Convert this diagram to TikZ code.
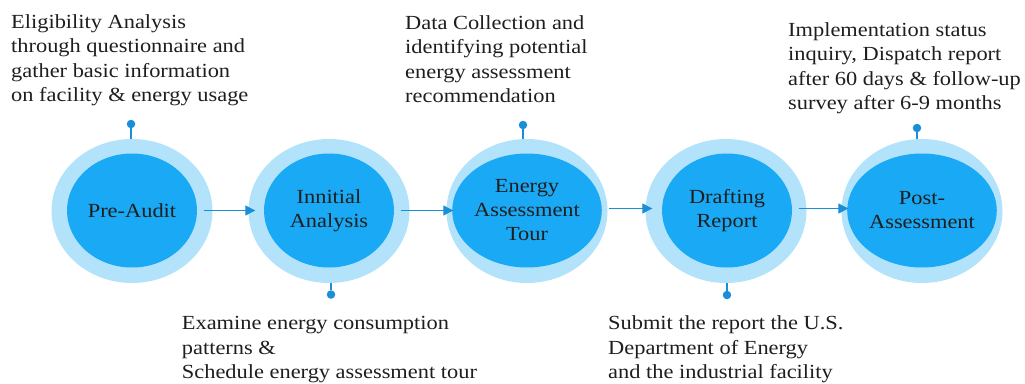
\documentclass[tikz,border=0pt]{standalone}
\usepackage{fontspec}
\setmainfont{Liberation Serif}[FakeStretch=1.12]
\usetikzlibrary{shapes.geometric,arrows.meta,calc}
\definecolor{ringblue}{HTML}{B3E3FB}
\definecolor{coreblue}{HTML}{1AA9F4}
\definecolor{linkblue}{HTML}{1A8ED6}
\definecolor{txt}{HTML}{1E1E1E}
\begin{document}
\begin{tikzpicture}[x=1pt,y=-1pt,
  ring/.style={ellipse, fill=ringblue, minimum width=161pt, minimum height=144pt, inner sep=0pt},
  core/.style={ellipse, fill=coreblue, minimum width=130pt, minimum height=114pt, inner sep=0pt, align=center, text=txt, font=\fontsize{20}{24}\selectfont},
  pin/.style={circle, fill=linkblue, minimum size=8.5pt, inner sep=0pt},
  stem/.style={draw=linkblue, line width=1.5pt},
  flow/.style={draw=linkblue, line width=1.3pt, -{Triangle[length=10pt,width=10pt]}},
  note/.style={anchor=base west, inner sep=0pt, text=txt, font=\fontsize{20}{24.5}\selectfont}
]
\useasboundingbox (0,0) rectangle (1025,383);

% stages
\node[ring] (o1) at (132,211) {};
\node[core] (c1) at (132,210.5) {Pre-Audit};
\node[ring] (o2) at (329,211) {};
\node[core] (c2) at (329,210.5) {Innitial\\Analysis};
\node[ring] (o3) at (527,211) {};
\node[core] (c3) at (527,210.5) {Energy\\Assessment\\Tour};
\node[ring] (o4) at (726,211) {};
\node[core] (c4) at (727,210.5) {Drafting\\Report};
\node[ring] (o5) at (922,211) {};
\node[core] (c5) at (922,210.5) {Post-\\Assessment};

% flow arrows
\draw[flow] ([xshift=6.5pt]c1.east) -- ([xshift=7pt]c1.east -| o2.west);
\draw[flow] ([xshift=6.5pt]c2.east) -- ([xshift=7pt]c2.east -| o3.west);
\draw[flow] ([shift={(6.5,-2)}]c3.east) -- ([shift={(7,-2)}]c3.east -| o4.west);
\draw[flow] ([shift={(6.5,-2)}]c4.east) -- ([shift={(7,-2)}]c4.east -| o5.west);

% pins
\node[pin] (p1) at (131,124) {};
\draw[stem] (p1) -- (p1 |- o1.north);
\node[pin] (p3) at (523,125) {};
\draw[stem] (p3) -- (p3 |- o3.north);
\node[pin] (p5) at (917,128) {};
\draw[stem] (p5) -- (p5 |- o5.north);
\node[pin] (p2) at (331,294.5) {};
\draw[stem] (p2) -- (p2 |- o2.south);
\node[pin] (p4) at (727,295) {};
\draw[stem] (p4) -- (p4 |- o4.south);

% notes
\node[note] (n1) at (11,28.3) {\begin{tabular}[t]{@{}l@{}}Eligibility Analysis\\through questionnaire and\\gather basic information\\on facility \& energy usage\end{tabular}};
\node[note] (n3) at (405,29) {\begin{tabular}[t]{@{}l@{}}Data Collection and\\identifying potential\\energy assessment\\recommendation\end{tabular}};
\node[note] (n5) at (788,36) {\begin{tabular}[t]{@{}l@{}}Implementation status\\inquiry, Dispatch report\\after 60 days \& follow-up\\survey after 6-9 months\end{tabular}};
\node[note] (n2) at (181.7,329.5) {\begin{tabular}[t]{@{}l@{}}Examine energy consumption\\patterns \&\\Schedule energy assessment tour\end{tabular}};
\node[note] (n4) at (608,329.5) {\begin{tabular}[t]{@{}l@{}}Submit the report the U.S.\\Department of Energy\\and the industrial facility\end{tabular}};
\end{tikzpicture}
\end{document}
